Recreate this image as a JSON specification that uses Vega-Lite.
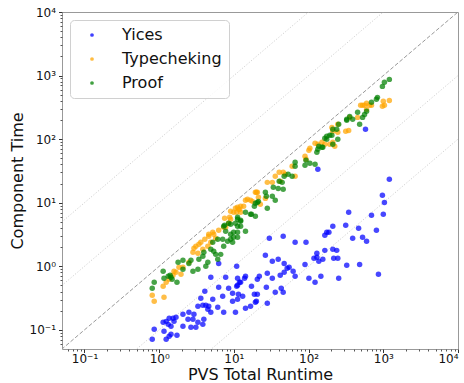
{
"$schema":"https://vega.github.io/schema/vega-lite/v6.json",
"width":396,"height":337,"autosize":"none",
"padding":{"left":62,"top":12,"right":6,"bottom":34},
"config":{"font":"DejaVu Sans","view":{"stroke":"#999","strokeWidth":1},
"axis":{"grid":false,"domain":false,"tickColor":"#333","tickSize":3.5,"labelColor":"#111","labelFontSize":12,"titleColor":"#111","titleFontSize":16,"titleFontWeight":"normal"}},
"datasets":{
"guides":[{"k":"100","x":0.0001,"y":0.01},{"k":"100","x":100000,"y":10000000},{"k":"10","x":0.0001,"y":0.001},{"k":"10","x":100000,"y":1000000},{"k":"0.1","x":0.0001,"y":0.00001},{"k":"0.1","x":100000,"y":10000},{"k":"0.01","x":0.0001,"y":0.000001},{"k":"0.01","x":100000,"y":1000}],
"diag":[{"k":"1","x":0.0001,"y":0.0001},{"k":"1","x":100000,"y":100000}],
"pts":[
{"g":"Yices","x":6.26,"y":1.11},{"g":"Yices","x":10.9,"y":1.0},{"g":"Yices","x":4.91,"y":0.671},{"g":"Yices","x":7.76,"y":0.671},{"g":"Yices","x":11.2,"y":0.648},{"g":"Yices","x":12.3,"y":0.56},{"g":"Yices","x":14.3,"y":0.696},{"g":"Yices","x":20.6,"y":0.625},{"g":"Yices","x":6.26,"y":0.468},{"g":"Yices","x":8.5,"y":0.451},{"g":"Yices","x":9.61,"y":0.376},{"g":"Yices","x":11.2,"y":0.503},{"g":"Yices","x":11.5,"y":0.363},{"g":"Yices","x":13.1,"y":0.338},{"g":"Yices","x":7.08,"y":0.338},{"g":"Yices","x":4.08,"y":0.405},{"g":"Yices","x":5.21,"y":0.303},{"g":"Yices","x":3.61,"y":0.314},{"g":"Yices","x":3.84,"y":0.244},{"g":"Yices","x":3.3,"y":0.235},{"g":"Yices","x":4.21,"y":0.244},{"g":"Yices","x":4.61,"y":0.235},{"g":"Yices","x":4.48,"y":0.211},{"g":"Yices","x":4.91,"y":0.189},{"g":"Yices","x":6.08,"y":0.227},{"g":"Yices","x":7.3,"y":0.189},{"g":"Yices","x":9.61,"y":0.282},{"g":"Yices","x":10.5,"y":0.189},{"g":"Yices","x":14.3,"y":0.219},{"g":"Yices","x":16.7,"y":0.235},{"g":"Yices","x":19.4,"y":0.272},{"g":"Yices","x":2.92,"y":0.176},{"g":"Yices","x":2.5,"y":0.189},{"g":"Yices","x":2.43,"y":0.147},{"g":"Yices","x":2.83,"y":0.147},{"g":"Yices","x":3.96,"y":0.147},{"g":"Yices","x":3.3,"y":0.132},{"g":"Yices","x":3.84,"y":0.122},{"g":"Yices","x":3.1,"y":0.11},{"g":"Yices","x":2.66,"y":0.11},{"g":"Yices","x":2.08,"y":0.176},{"g":"Yices","x":2.08,"y":0.114},{"g":"Yices","x":1.68,"y":0.158},{"g":"Yices","x":1.58,"y":0.136},{"g":"Yices","x":1.53,"y":0.152},{"g":"Yices","x":1.36,"y":0.152},{"g":"Yices","x":1.24,"y":0.136},{"g":"Yices","x":1.13,"y":0.132},{"g":"Yices","x":1.32,"y":0.122},{"g":"Yices","x":1.44,"y":0.114},{"g":"Yices","x":1.16,"y":0.095},{"g":"Yices","x":1.36,"y":0.0793},{"g":"Yices","x":1.73,"y":0.0822},{"g":"Yices","x":1.24,"y":0.0711},{"g":"Yices","x":1.44,"y":0.0853},{"g":"Yices","x":0.858,"y":0.102},{"g":"Yices","x":0.807,"y":0.0711},
{"g":"Yices","x":1205,"y":23.3},{"g":"Yices","x":973,"y":13.1},{"g":"Yices","x":1035,"y":10.1},{"g":"Yices","x":1000,"y":6.57},{"g":"Yices","x":695,"y":6.34},{"g":"Yices","x":809,"y":3.68},{"g":"Yices","x":344,"y":7.06},{"g":"Yices","x":314,"y":4.41},{"g":"Yices","x":467,"y":3.96},{"g":"Yices","x":389,"y":2.76},{"g":"Yices","x":528,"y":2.86},{"g":"Yices","x":597,"y":2.47},{"g":"Yices","x":211,"y":4.26},{"g":"Yices","x":175,"y":3.42},{"g":"Yices","x":187,"y":3.42},{"g":"Yices","x":165,"y":3.07},{"g":"Yices","x":45.7,"y":2.96},{"g":"Yices","x":29.8,"y":2.76},{"g":"Yices","x":66.0,"y":2.39},{"g":"Yices","x":92.3,"y":2.39},{"g":"Yices","x":129,"y":1.6},{"g":"Yices","x":118,"y":1.34},{"g":"Yices","x":129,"y":1.39},{"g":"Yices","x":137,"y":1.2},{"g":"Yices","x":155,"y":1.29},{"g":"Yices","x":165,"y":1.78},{"g":"Yices","x":211,"y":1.85},{"g":"Yices","x":238,"y":1.78},{"g":"Yices","x":217,"y":1.34},{"g":"Yices","x":246,"y":1.34},{"g":"Yices","x":324,"y":1.04},{"g":"Yices","x":482,"y":1.07},{"g":"Yices","x":861,"y":0.748},{"g":"Yices","x":253,"y":0.648},{"g":"Yices","x":146,"y":0.696},{"g":"Yices","x":122,"y":0.56},{"g":"Yices","x":101,"y":0.648},{"g":"Yices","x":89.5,"y":1.07},{"g":"Yices","x":66.0,"y":0.696},{"g":"Yices","x":62.1,"y":0.834},{"g":"Yices","x":54.9,"y":0.965},{"g":"Yices","x":51.6,"y":0.93},{"g":"Yices","x":47.1,"y":1.11},{"g":"Yices","x":47.1,"y":0.805},{"g":"Yices","x":41.7,"y":0.722},{"g":"Yices","x":39.2,"y":1.29},{"g":"Yices","x":32.7,"y":1.2},{"g":"Yices","x":26.4,"y":1.49},{"g":"Yices","x":28.0,"y":0.776},{"g":"Yices","x":32.7,"y":0.648},{"g":"Yices","x":27.2,"y":0.468},{"g":"Yices","x":21.9,"y":0.696},{"g":"Yices","x":17.2,"y":0.485},{"g":"Yices","x":43.0,"y":0.451},{"g":"Yices","x":45.7,"y":0.39},{"g":"Yices","x":35.8,"y":0.39},{"g":"Yices","x":20.6,"y":0.363},{"g":"Yices","x":18.8,"y":0.363},{"g":"Yices","x":20.0,"y":0.282},{"g":"Yices","x":28.0,"y":0.262},{"g":"Yices","x":578,"y":143},{"g":"Yices","x":133,"y":33.5},{"g":"Yices","x":11.9,"y":0.56},{"g":"Yices","x":10.9,"y":0.485},{"g":"Yices","x":11.2,"y":0.303},{"g":"Yices","x":13.9,"y":0.648},
{"g":"Typecheking","x":0.858,"y":0.282},{"g":"Typecheking","x":0.807,"y":0.35},{"g":"Typecheking","x":1.16,"y":0.326},{"g":"Typecheking","x":1.13,"y":0.485},{"g":"Typecheking","x":1.24,"y":0.56},{"g":"Typecheking","x":1.36,"y":0.625},{"g":"Typecheking","x":1.53,"y":0.722},{"g":"Typecheking","x":1.68,"y":0.805},{"g":"Typecheking","x":1.58,"y":0.834},{"g":"Typecheking","x":1.84,"y":0.965},{"g":"Typecheking","x":2.08,"y":0.965},{"g":"Typecheking","x":1.96,"y":0.748},{"g":"Typecheking","x":2.5,"y":1.16},{"g":"Typecheking","x":2.83,"y":1.66},{"g":"Typecheking","x":2.92,"y":1.92},{"g":"Typecheking","x":3.1,"y":2.06},{"g":"Typecheking","x":3.4,"y":2.22},{"g":"Typecheking","x":3.61,"y":2.39},{"g":"Typecheking","x":4.08,"y":2.66},{"g":"Typecheking","x":4.61,"y":2.96},{"g":"Typecheking","x":5.21,"y":3.42},{"g":"Typecheking","x":6.26,"y":3.68},{"g":"Typecheking","x":7.3,"y":4.1},{"g":"Typecheking","x":8.5,"y":4.74},{"g":"Typecheking","x":9.04,"y":5.48},{"g":"Typecheking","x":9.91,"y":7.06},{"g":"Typecheking","x":11.5,"y":7.87},{"g":"Typecheking","x":13.5,"y":8.78},{"g":"Typecheking","x":15.2,"y":11.3},{"g":"Typecheking","x":3.3,"y":1.6},{"g":"Typecheking","x":3.84,"y":1.85},{"g":"Typecheking","x":4.48,"y":2.06},{"g":"Typecheking","x":4.91,"y":2.39},{"g":"Typecheking","x":5.71,"y":2.76},{"g":"Typecheking","x":4.61,"y":3.18},{"g":"Typecheking","x":5.37,"y":3.18},{"g":"Typecheking","x":7.76,"y":4.1},{"g":"Typecheking","x":9.04,"y":7.33},{"g":"Typecheking","x":7.52,"y":5.69},{"g":"Typecheking","x":8.77,"y":5.89},{"g":"Typecheking","x":10.5,"y":8.17},{"g":"Typecheking","x":11.2,"y":8.47},{"g":"Typecheking","x":12.3,"y":8.78},{"g":"Typecheking","x":14.3,"y":10.9},{"g":"Typecheking","x":16.7,"y":10.9},{"g":"Typecheking","x":20.0,"y":14.6},{"g":"Typecheking","x":21.3,"y":12.2},{"g":"Typecheking","x":28.0,"y":20.9},{"g":"Typecheking","x":32.7,"y":20.9},{"g":"Typecheking","x":35.8,"y":26.0},{"g":"Typecheking","x":40.4,"y":30.1},{"g":"Typecheking","x":45.7,"y":30.1},{"g":"Typecheking","x":48.6,"y":28.0},{"g":"Typecheking","x":60.2,"y":37.4},{"g":"Typecheking","x":66.0,"y":26.0},{"g":"Typecheking","x":101,"y":66.7},{"g":"Typecheking","x":89.5,"y":53.7},{"g":"Typecheking","x":22.6,"y":9.44},{"g":"Typecheking","x":26.4,"y":11.7},{"g":"Typecheking","x":12.3,"y":7.06},{"g":"Typecheking","x":17.7,"y":10.5},{"g":"Typecheking","x":19.4,"y":14.6},{"g":"Typecheking","x":11.9,"y":7.87},{"g":"Typecheking","x":41.7,"y":21.7},{"g":"Typecheking","x":20.6,"y":14.6},{"g":"Typecheking","x":10.9,"y":7.06},
{"g":"Typecheking","x":1205,"y":407},{"g":"Typecheking","x":1000,"y":393},{"g":"Typecheking","x":973,"y":328},{"g":"Typecheking","x":1035,"y":340},{"g":"Typecheking","x":695,"y":340},{"g":"Typecheking","x":597,"y":366},{"g":"Typecheking","x":561,"y":340},{"g":"Typecheking","x":497,"y":340},{"g":"Typecheking","x":528,"y":340},{"g":"Typecheking","x":453,"y":220},{"g":"Typecheking","x":355,"y":220},{"g":"Typecheking","x":344,"y":137},{"g":"Typecheking","x":314,"y":133},{"g":"Typecheking","x":246,"y":171},{"g":"Typecheking","x":246,"y":128},{"g":"Typecheking","x":211,"y":133},{"g":"Typecheking","x":205,"y":153},{"g":"Typecheking","x":165,"y":82.8},{"g":"Typecheking","x":192,"y":82.8},{"g":"Typecheking","x":122,"y":85.9},{"g":"Typecheking","x":104,"y":71.7},{"g":"Typecheking","x":224,"y":77.1},{"g":"Typecheking","x":92.3,"y":48.1},{"g":"Typecheking","x":133,"y":82.8},{"g":"Typecheking","x":151,"y":89.1},{"g":"Typecheking","x":211,"y":89.1},{"g":"Typecheking","x":597,"y":294},{"g":"Typecheking","x":653,"y":340},
{"g":"Proof","x":0.807,"y":0.451},{"g":"Proof","x":0.858,"y":0.56},{"g":"Proof","x":1.16,"y":0.648},{"g":"Proof","x":1.13,"y":0.834},{"g":"Proof","x":1.32,"y":0.696},{"g":"Proof","x":1.44,"y":0.671},{"g":"Proof","x":1.73,"y":0.56},{"g":"Proof","x":2.08,"y":0.897},{"g":"Proof","x":2.08,"y":1.24},{"g":"Proof","x":1.79,"y":1.16},{"g":"Proof","x":2.5,"y":1.11},{"g":"Proof","x":2.83,"y":0.834},{"g":"Proof","x":3.3,"y":0.897},{"g":"Proof","x":3.4,"y":1.29},{"g":"Proof","x":3.84,"y":1.44},{"g":"Proof","x":3.96,"y":1.66},{"g":"Proof","x":4.48,"y":1.16},{"g":"Proof","x":4.91,"y":1.85},{"g":"Proof","x":5.21,"y":2.39},{"g":"Proof","x":6.08,"y":2.66},{"g":"Proof","x":7.3,"y":2.06},{"g":"Proof","x":8.25,"y":2.47},{"g":"Proof","x":9.04,"y":3.18},{"g":"Proof","x":9.91,"y":2.86},{"g":"Proof","x":11.2,"y":3.42},{"g":"Proof","x":12.3,"y":4.26},{"g":"Proof","x":9.04,"y":4.57},{"g":"Proof","x":11.2,"y":5.48},{"g":"Proof","x":14.3,"y":3.55},{"g":"Proof","x":14.3,"y":7.06},{"g":"Proof","x":16.7,"y":6.57},{"g":"Proof","x":19.4,"y":6.11},{"g":"Proof","x":20.6,"y":10.1},{"g":"Proof","x":7.3,"y":4.26},{"g":"Proof","x":10.5,"y":4.74},{"g":"Proof","x":1.4,"y":0.722},{"g":"Proof","x":1.49,"y":0.625},{"g":"Proof","x":2.66,"y":1.24},{"g":"Proof","x":4.21,"y":1.0},{"g":"Proof","x":5.37,"y":1.72},{"g":"Proof","x":5.71,"y":1.54},{"g":"Proof","x":6.08,"y":1.29},{"g":"Proof","x":6.66,"y":1.54},{"g":"Proof","x":7.08,"y":2.66},{"g":"Proof","x":7.76,"y":3.55},{"g":"Proof","x":9.61,"y":2.39},
{"g":"Proof","x":7.52,"y":4.41},{"g":"Proof","x":8.5,"y":4.74},{"g":"Proof","x":11.2,"y":5.89},{"g":"Proof","x":12.3,"y":5.1},{"g":"Proof","x":17.2,"y":6.57},{"g":"Proof","x":18.8,"y":8.78},{"g":"Proof","x":21.3,"y":10.5},{"g":"Proof","x":28.0,"y":8.17},{"g":"Proof","x":26.4,"y":14.6},{"g":"Proof","x":27.2,"y":12.6},{"g":"Proof","x":32.7,"y":12.6},{"g":"Proof","x":35.8,"y":10.9},{"g":"Proof","x":33.7,"y":17.5},{"g":"Proof","x":39.2,"y":16.8},{"g":"Proof","x":45.7,"y":16.3},{"g":"Proof","x":40.4,"y":21.7},{"g":"Proof","x":44.3,"y":20.9},{"g":"Proof","x":47.1,"y":26.0},{"g":"Proof","x":53.2,"y":28.0},{"g":"Proof","x":60.2,"y":26.0},{"g":"Proof","x":66.0,"y":43.2},{"g":"Proof","x":66.0,"y":37.4},{"g":"Proof","x":89.5,"y":38.7},{"g":"Proof","x":92.3,"y":46.4},{"g":"Proof","x":11.2,"y":4.26},{"g":"Proof","x":19.4,"y":9.79},{"g":"Proof","x":12.3,"y":5.29},{"g":"Proof","x":9.91,"y":3.42},{"g":"Proof","x":11.2,"y":2.86},{"g":"Proof","x":9.04,"y":2.66},
{"g":"Proof","x":1205,"y":871},{"g":"Proof","x":1035,"y":782},{"g":"Proof","x":973,"y":676},{"g":"Proof","x":835,"y":454},{"g":"Proof","x":809,"y":423},{"g":"Proof","x":695,"y":379},{"g":"Proof","x":597,"y":274},{"g":"Proof","x":561,"y":245},{"g":"Proof","x":528,"y":220},{"g":"Proof","x":453,"y":264},{"g":"Proof","x":482,"y":171},{"g":"Proof","x":355,"y":228},{"g":"Proof","x":389,"y":205},{"g":"Proof","x":324,"y":205},{"g":"Proof","x":253,"y":171},{"g":"Proof","x":238,"y":143},{"g":"Proof","x":246,"y":99.3},{"g":"Proof","x":211,"y":143},{"g":"Proof","x":192,"y":115},{"g":"Proof","x":165,"y":103},{"g":"Proof","x":155,"y":74.3},{"g":"Proof","x":137,"y":77.1},{"g":"Proof","x":211,"y":82.8},{"g":"Proof","x":175,"y":99.3},{"g":"Proof","x":104,"y":41.6},{"g":"Proof","x":122,"y":40.2},{"g":"Proof","x":133,"y":69.1},{"g":"Proof","x":129,"y":62.0},{"g":"Proof","x":151,"y":74.3},{"g":"Proof","x":175,"y":111},{"g":"Proof","x":205,"y":115},{"g":"Proof","x":324,"y":198}
]},
"resolve":{"axis":{"x":"independent","y":"independent"}},
"layer":[
{"data":{"name":"guides"},"mark":{"type":"line","clip":true,"color":"#c4c4c4","strokeWidth":0.8,"strokeDash":[1.2,1.8]},
"encoding":{"x":{"field":"x","type":"quantitative","scale":{"type":"log","domain":[0.05,10000],"nice":false},
"axis":{"orient":"bottom","values":[0.06,0.07,0.08,0.09,0.2,0.3,0.4,0.5,0.6,0.7,0.8,0.9,2,3,4,5,6,7,8,9,20,30,40,50,60,70,80,90,200,300,400,500,600,700,800,900,2000,3000,4000,5000,6000,7000,8000,9000],"labels":false,"tickSize":2,"title":null,"tickColor":"#555"}},
"y":{"field":"y","type":"quantitative","scale":{"type":"log","domain":[0.05,10000],"nice":false},
"axis":{"orient":"left","values":[0.06,0.07,0.08,0.09,0.2,0.3,0.4,0.5,0.6,0.7,0.8,0.9,2,3,4,5,6,7,8,9,20,30,40,50,60,70,80,90,200,300,400,500,600,700,800,900,2000,3000,4000,5000,6000,7000,8000,9000],"labels":false,"tickSize":2,"title":null,"tickColor":"#555"}},
"detail":{"field":"k"}}},
{"data":{"name":"diag"},"mark":{"type":"line","clip":true,"color":"#999999","strokeWidth":1,"strokeDash":[4,2]},
"encoding":{"x":{"field":"x","type":"quantitative","axis":null},"y":{"field":"y","type":"quantitative","axis":null}}},
{"data":{"name":"pts"},"mark":{"type":"circle","size":30,"opacity":0.72,"clip":true},
"encoding":{"x":{"field":"x","type":"quantitative","axis":{"orient":"bottom","values":[0.1,1,10,100,1000,10000],"labelExpr":"'10' + ['⁻¹','⁰','¹','²','³','⁴'][round(log(datum.value)/LN10)+1]","title":"PVS Total Runtime","labelPadding":1,"titlePadding":2}},
"y":{"field":"y","type":"quantitative","axis":{"orient":"left","values":[0.1,1,10,100,1000,10000],"labelExpr":"'10' + ['⁻¹','⁰','¹','²','³','⁴'][round(log(datum.value)/LN10)+1]","title":"Component Time","labelPadding":3,"titlePadding":4}},
"color":{"field":"g","type":"nominal","scale":{"domain":["Yices","Typecheking","Proof"],"range":["#0000ff","#ffa500","#008000"]},
"legend":{"title":null,"orient":"top-left","offset":8,"padding":7,"strokeColor":"#d0d0d0","fillColor":"rgba(255,255,255,0.8)","cornerRadius":4,"labelFontSize":16,"labelColor":"#111","symbolSize":14,"symbolOpacity":0.75,"symbolType":"circle","rowPadding":8,"symbolOffset":7,"labelOffset":22}}}}
]
}
